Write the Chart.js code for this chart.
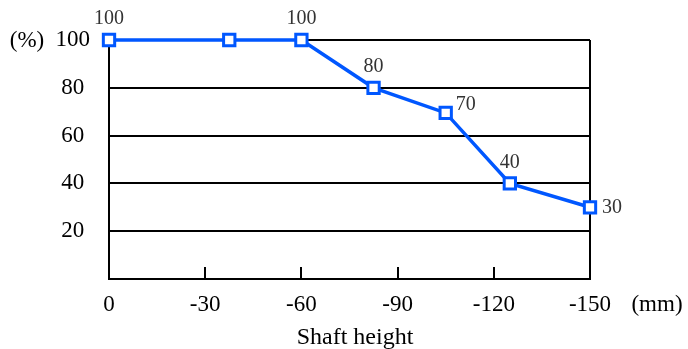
<!DOCTYPE html>
<html>
<head>
<meta charset="utf-8">
<script src="https://cdn.jsdelivr.net/npm/chart.js@4"></script>
<style>
  html, body { margin: 0; padding: 0; background: #fff; }
  #wrap { width: 688px; height: 349px; }
</style>
</head>
<body>
<div id="wrap"><canvas id="shaft-chart" width="688" height="349"></canvas></div>
<script>
'use strict'

// data
const shaftHeights = [0, -37.5, -60, -82.5, -105, -125, -150];
const ratios = [100, 100, 100, 80, 69.5, 40, 30];
const pointLabels = ['100', '', '100', '80', '70', '40', '30'];
const labelSides = ['top', 'none', 'top', 'top', 'upright', 'top', 'right'];
const xTickValues = [0, -30, -60, -90, -120, -150];
const yTickValues = [20, 40, 60, 80, 100];

const FONT = '"Liberation Serif", "Times New Roman", serif';
const BLUE = '#0057ff';

// value labels next to the markers
const pointLabelPlugin = {
  id: 'pointLabels',
  afterDatasetsDraw(chart) {
    const ctx = chart.ctx;
    const meta = chart.getDatasetMeta(0);
    ctx.save();
    ctx.font = '20px ' + FONT;
    ctx.fillStyle = '#333';
    ctx.textBaseline = 'middle';
    meta.data.forEach((pt, i) => {
      const t = pointLabels[i];
      if (!t) return;
      if (labelSides[i] === 'top') {
        ctx.textAlign = 'center';
        ctx.fillText(t, pt.x, pt.y - 21);
      } else if (labelSides[i] === 'upright') {
        ctx.textAlign = 'left';
        ctx.fillText(t, pt.x + 10, pt.y - 8);
      } else {
        ctx.textAlign = 'left';
        ctx.fillText(t, pt.x + 12, pt.y);
      }
    });
    ctx.restore();
  }
};

// inward tick marks on the x axis + unit / title texts
const decoPlugin = {
  id: 'deco',
  beforeDatasetsDraw(chart) {
    const ctx = chart.ctx;
    const x = chart.scales.x;
    const bottom = chart.chartArea.bottom;
    ctx.save();
    ctx.strokeStyle = '#000';
    ctx.lineWidth = 2;
    xTickValues.forEach(v => {
      if (v === 0 || v === -150) return;
      const px = Math.round(x.getPixelForValue(v));
      ctx.beginPath();
      ctx.moveTo(px, bottom);
      ctx.lineTo(px, bottom - 12);
      ctx.stroke();
    });
    ctx.restore();
  },
  afterDraw(chart) {
    const ctx = chart.ctx;
    ctx.save();
    ctx.font = '23px ' + FONT;
    ctx.fillStyle = '#000';
    ctx.textAlign = 'center';
    ctx.textBaseline = 'middle';
    ctx.fillText('(%)', 27, 41);
    ctx.fillText('(mm)', 657, 305);
    ctx.font = '24px ' + FONT;
    ctx.fillText('Shaft height', 355, 338);
    ctx.restore();
  }
};

var context = document.querySelector('#shaft-chart').getContext('2d');
new Chart(context, {
  type: 'line',
  data: {
    datasets: [
      {
        data: shaftHeights.map((h, i) => ({ x: h, y: ratios[i] })),
        borderColor: BLUE,
        borderWidth: 3.5,
        pointStyle: 'rect',
        pointRadius: 8,
        pointBorderWidth: 3,
        pointBorderColor: BLUE,
        pointBackgroundColor: '#fff',
        tension: 0,
        clip: false,
      },
    ],
  },
  options: {
    responsive: false,
    animation: false,
    layout: { padding: { left: 0, top: 40, right: 98, bottom: 0 } },
    plugins: {
      legend: { display: false },
      tooltip: { enabled: false },
    },
    scales: {
      x: {
        type: 'linear',
        reverse: true,
        min: -150,
        max: 0,
        afterBuildTicks: (scale) => {
          scale.ticks = xTickValues.map(v => ({ value: v }));
        },
        afterFit: (scale) => { scale.height = 70; },
        grid: {
          drawTicks: false,
          lineWidth: 2,
          color: (c) => (c.tick && c.tick.value === -150 ? '#000' : 'rgba(0,0,0,0)'),
        },
        border: { color: '#000', width: 2 },
        ticks: {
          color: '#000',
          padding: 12,
          font: { family: FONT, size: 23 },
          callback: (v) => String(v),
        },
      },
      y: {
        min: 0,
        max: 100,
        afterBuildTicks: (scale) => {
          scale.ticks = yTickValues.map(v => ({ value: v }));
        },
        afterFit: (scale) => { scale.width = 109; },
        grid: { drawTicks: false, lineWidth: 2, color: '#000' },
        border: { color: '#000', width: 2 },
        ticks: {
          color: '#000',
          padding: 19,
          crossAlign: 'center',
          font: { family: FONT, size: 23 },
        },
      },
    },
  },
  plugins: [pointLabelPlugin, decoPlugin],
});
</script>
</body>
</html>
